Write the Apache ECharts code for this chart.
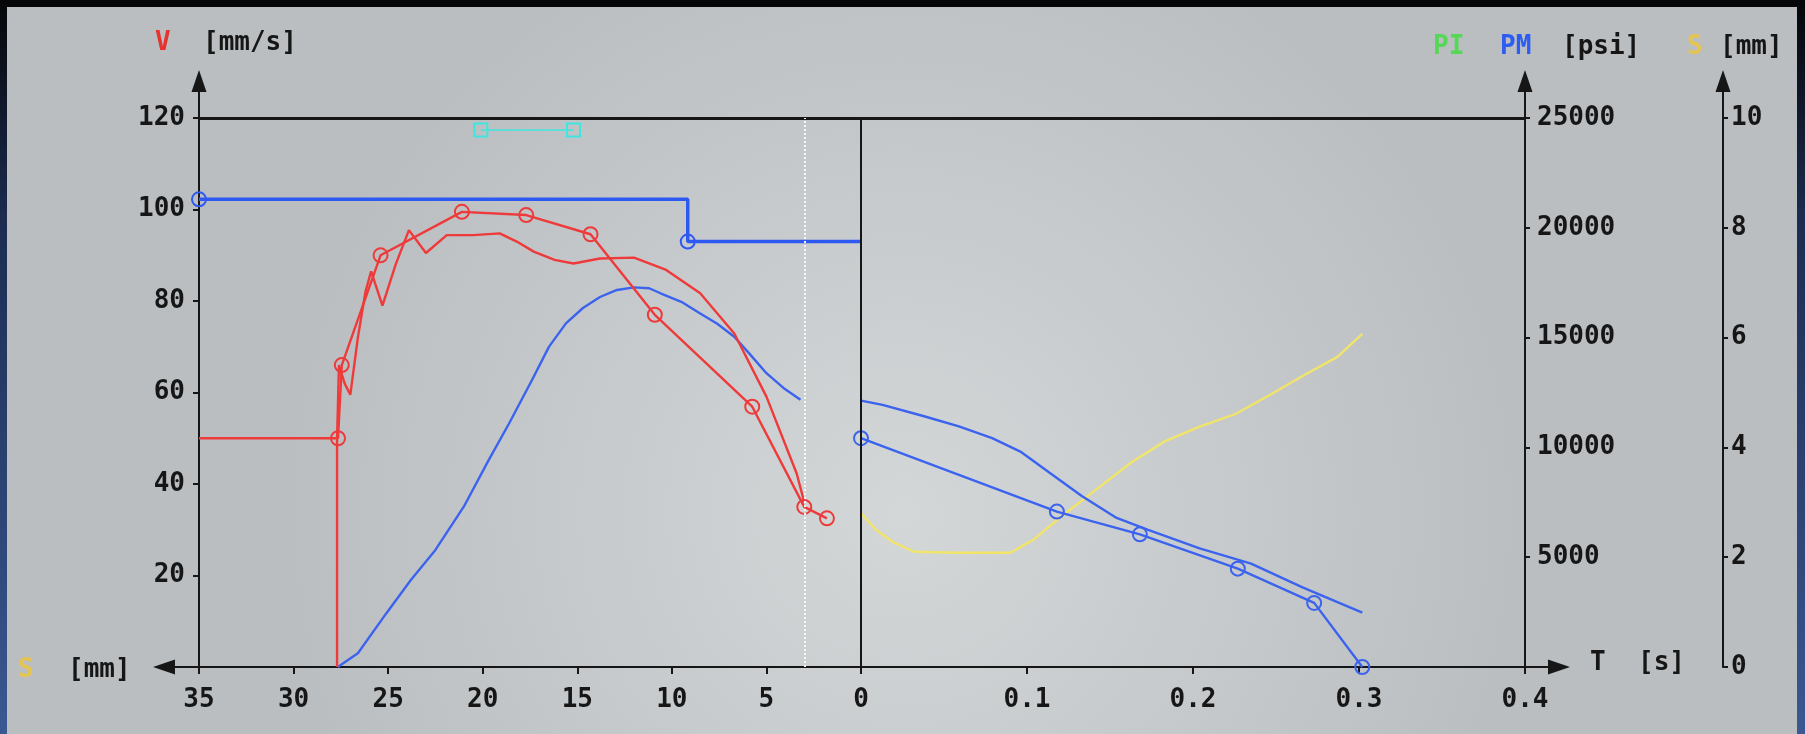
<!DOCTYPE html>
<html>
<head>
<meta charset="UTF-8">
<script src="https://cdn.jsdelivr.net/npm/echarts@6/dist/echarts.min.js"></script>
<style>
  html, body { margin: 0; padding: 0; background: #c6cacc; }
  #main { width: 1805px; height: 734px; }
</style>
</head>
<body>
<div id="main"></div>
<script>
// tick labels
var sTicks = [0, 5, 10, 15, 20, 25, 30, 35];      // stroke S [mm], left half (reversed)
var tTicks = [0.1, 0.2, 0.3, 0.4];                // time T [s], right half
var vTicks = [20, 40, 60, 80, 100, 120];          // V [mm/s]
var psiTicks = [5000, 10000, 15000, 20000, 25000];// PM [psi]
var mmTicks = [0, 2, 4, 6, 8, 10];                // S [mm], right axis

// reference lines
var sLimit = 35, vLimit = 120, tLimit = 0.4, psiLimit = 25000;
var sDivider = 3;

// velocity set profile (circles)
var vSetS = [35, 27.65, 27.45, 25.4, 21.1, 17.7, 14.3, 10.9, 5.75, 3.0, 1.8];
var vSetV = [50, 50, 66, 90, 99.5, 98.8, 94.6, 77, 56.9, 35, 32.5];

// velocity measured
var vActS = [27.7, 27.7, 27.6, 27.3, 27.0, 26.6, 26.2, 25.9, 25.3, 24.6, 23.9, 23.0, 21.9, 20.5, 19.1, 18.2, 17.3, 16.2, 15.2, 13.8, 12.0, 10.3, 8.5, 6.7, 5.0, 3.4, 3.0];
var vActV = [0, 50, 66, 62, 59.5, 72, 82, 86.5, 79, 88, 95.5, 90.5, 94.4, 94.4, 94.8, 93, 90.8, 89, 88.2, 89.3, 89.5, 86.8, 81.7, 72.9, 59.1, 42.3, 36];

// PM set step, left half
var pmSetS = [35, 9.16, 9.16, 0];
var pmSetPsi = [21300, 21300, 19375, 19375];

// PM measured, left half
var pmActS = [27.66, 26.6, 25.1, 23.8, 22.5, 21.0, 19.7, 18.6, 17.4, 16.5, 15.6, 14.7, 13.8, 12.9, 12.0, 11.2, 10.6, 9.5, 8.5, 7.6, 6.7, 5.9, 5.0, 4.1, 3.2];
var pmActPsi = [0, 625, 2440, 3960, 5330, 7300, 9400, 11100, 13060, 14580, 15650, 16350, 16850, 17170, 17290, 17250, 17020, 16630, 16100, 15630, 15040, 14270, 13380, 12710, 12170];

// PI window (cyan)
var piS = [20.1, 15.2];
var piV = [117.4, 117.4];

// PM set, right half (circles)
var pmSetT = [0, 0.118, 0.168, 0.227, 0.273, 0.302];
var pmSetTPsi = [10420, 7080, 6040, 4480, 2920, 0];

// PM measured, right half
var pmActT = [0, 0.013, 0.038, 0.059, 0.079, 0.096, 0.113, 0.133, 0.154, 0.173, 0.204, 0.235, 0.266, 0.302];
var pmActTPsi = [12130, 11940, 11420, 10960, 10420, 9810, 8880, 7790, 6790, 6250, 5400, 4710, 3630, 2480];

// stroke S over time (yellow)
var strokeT = [0, 0.009, 0.019, 0.032, 0.059, 0.090, 0.104, 0.121, 0.142, 0.163, 0.183, 0.204, 0.225, 0.246, 0.266, 0.287, 0.302];
var strokeMm = [2.8, 2.5, 2.28, 2.1, 2.08, 2.08, 2.32, 2.75, 3.24, 3.73, 4.11, 4.38, 4.6, 4.95, 5.3, 5.65, 6.07];

function zip(xs, ys) {
  return xs.map(function (x, i) { return [x, ys[i]]; });
}

var RED = '#ee3a3a', BLUE = '#3b63ee', STEP = '#2e58f2', CYAN = '#3fe6df', YEL = '#f1e46a';
var INK = '#161616';
var FONT = 'bold 26px "DejaVu Sans Mono"';
var lbl = { fontFamily: 'DejaVu Sans Mono', fontWeight: 'bold', fontSize: 26, color: INK };
var plain = function (v) { return String(v); };

// axis tops sit above the 120 / 25000 / 10 marks, same scale on all three
var vMax = 128.1;
var psiMax = vMax * psiLimit / vLimit;
var mmMax = vMax / 12;

var arrowSize = [15, 22];

var myChart = echarts.init(document.getElementById('main'));

// hollow markers: transparent fill, coloured rim
function hollow(color, shape, size) {
  return {
    symbol: shape, symbolSize: size, showAllSymbol: true,
    itemStyle: { color: 'rgba(0,0,0,0)', borderColor: color, borderWidth: 2 },
    lineStyle: { color: color, width: 2.4 }
  };
}

var vSetData = zip(vSetS, vSetV).map(function (p, i) {
  return i === 0 ? { value: p, symbol: 'none' } : p;
});
var pmSetData = zip(pmSetS, pmSetPsi).map(function (p, i) {
  return (i === 0 || i === 2) ? p : { value: p, symbol: 'none' };
});

var option = {
  animation: false,
  backgroundColor: {
    type: 'radial', x: 0.5, y: 0.7, r: 0.85,
    colorStops: [{ offset: 0, color: '#d4d7d8' }, { offset: 1, color: '#babec1' }]
  },
  graphic: [
    { type: 'rect', shape: { x: 0, y: 0, width: 1805, height: 7 }, style: { fill: '#050608' } },
    { type: 'rect', shape: { x: 0, y: 0, width: 7, height: 734 },
      style: { fill: { type: 'linear', x: 0, y: 0, x2: 0, y2: 1, colorStops: [{ offset: 0, color: '#050608' }, { offset: 0.3, color: '#1c2c50' }, { offset: 1, color: '#3a5892' }] } } },
    { type: 'rect', shape: { x: 1797, y: 0, width: 8, height: 734 },
      style: { fill: { type: 'linear', x: 0, y: 0, x2: 0, y2: 1, colorStops: [{ offset: 0, color: '#050608' }, { offset: 0.3, color: '#1c2c50' }, { offset: 1, color: '#3a5892' }] } } },
    { type: 'text', x: 155, y: 43, style: { text: 'V', fill: '#e8322e', font: FONT, verticalAlign: 'middle' } },
    { type: 'text', x: 203, y: 43, style: { text: '[mm/s]', fill: INK, font: FONT, verticalAlign: 'middle' } },
    { type: 'text', x: 1433, y: 47, style: { text: 'PI', fill: '#55d855', font: FONT, verticalAlign: 'middle' } },
    { type: 'text', x: 1500, y: 47, style: { text: 'PM', fill: '#2c5cf2', font: FONT, verticalAlign: 'middle' } },
    { type: 'text', x: 1562, y: 47, style: { text: '[psi]', fill: INK, font: FONT, verticalAlign: 'middle' } },
    { type: 'text', x: 1687, y: 47, style: { text: 'S', fill: '#e6c450', font: FONT, verticalAlign: 'middle' } },
    { type: 'text', x: 1720, y: 47, style: { text: '[mm]', fill: INK, font: FONT, verticalAlign: 'middle' } },
    { type: 'text', x: 18, y: 670, style: { text: 'S', fill: '#e6c450', font: FONT, verticalAlign: 'middle' } },
    { type: 'text', x: 68, y: 670, style: { text: '[mm]', fill: INK, font: FONT, verticalAlign: 'middle' } },
    { type: 'text', x: 1590, y: 663, style: { text: 'T', fill: INK, font: FONT, verticalAlign: 'middle' } },
    { type: 'text', x: 1638, y: 663, style: { text: '[s]', fill: INK, font: FONT, verticalAlign: 'middle' } }
  ],
  grid: [
    { left: 164, top: 81, width: 697, bottom: 67 },
    { left: 861, top: 81, width: 698, bottom: 67 }
  ],
  xAxis: [
    {
      gridIndex: 0, type: 'value', min: 0, max: 36.85, inverse: true,
      axisLine: { onZero: false, symbol: ['triangle', 'none'], symbolSize: arrowSize, lineStyle: { color: INK, width: 2 } },
      axisTick: { customValues: sTicks, length: 7, lineStyle: { color: INK, width: 2 } },
      axisLabel: Object.assign({ customValues: sTicks, margin: 20, formatter: plain }, lbl),
      splitLine: { show: false }
    },
    {
      gridIndex: 1, type: 'value', min: 0, max: 0.4205,
      axisLine: { onZero: false, symbol: ['none', 'triangle'], symbolSize: arrowSize, lineStyle: { color: INK, width: 2 } },
      axisTick: { customValues: tTicks, length: 7, lineStyle: { color: INK, width: 2 } },
      axisLabel: Object.assign({ customValues: tTicks, margin: 20, formatter: plain }, lbl),
      splitLine: { show: false }
    }
  ],
  yAxis: [
    {
      gridIndex: 0, type: 'value', position: 'left', offset: -35, min: 0, max: vMax,
      axisLine: { show: true, onZero: false, symbol: ['none', 'triangle'], symbolSize: arrowSize, lineStyle: { color: INK, width: 2 } },
      axisTick: { show: true, customValues: vTicks, length: 6, lineStyle: { color: INK, width: 2 } },
      axisLabel: Object.assign({ customValues: vTicks, margin: 14, formatter: plain }, lbl),
      splitLine: { show: false }
    },
    { gridIndex: 0, type: 'value', min: 0, max: psiMax, show: false, axisLine: { onZero: false } },
    {
      gridIndex: 1, type: 'value', position: 'right', offset: -34, min: 0, max: psiMax,
      axisLine: { show: true, onZero: false, symbol: ['none', 'triangle'], symbolSize: arrowSize, lineStyle: { color: INK, width: 2 } },
      axisTick: { show: true, customValues: psiTicks, length: 5, lineStyle: { color: INK, width: 2 } },
      axisLabel: Object.assign({ customValues: psiTicks, margin: 12, formatter: plain }, lbl),
      splitLine: { show: false }
    },
    {
      gridIndex: 1, type: 'value', position: 'right', offset: 164, min: 0, max: mmMax,
      axisLine: { show: true, onZero: false, symbol: ['none', 'triangle'], symbolSize: arrowSize, lineStyle: { color: INK, width: 2 } },
      axisTick: { show: true, customValues: mmTicks, length: 5, lineStyle: { color: INK, width: 2 } },
      axisLabel: Object.assign({ customValues: mmTicks, margin: 8, formatter: plain }, lbl),
      splitLine: { show: false }
    }
  ],
  series: [
    // left half: PM set step
    Object.assign({
      name: 'PM set', type: 'line', xAxisIndex: 0, yAxisIndex: 1, data: pmSetData, z: 3
    }, hollow(STEP, 'circle', 14), { lineStyle: { color: STEP, width: 3.5 } }),
    // left half: PM measured
    {
      name: 'PM', type: 'line', xAxisIndex: 0, yAxisIndex: 1, data: zip(pmActS, pmActPsi),
      showSymbol: false, lineStyle: { color: BLUE, width: 2.4 }, z: 3
    },
    // left half: V measured
    {
      name: 'V', type: 'line', xAxisIndex: 0, yAxisIndex: 0, data: zip(vActS, vActV),
      showSymbol: false, lineStyle: { color: RED, width: 2.4 }, z: 4
    },
    // left half: V set profile + frame lines
    Object.assign({
      name: 'V set', type: 'line', xAxisIndex: 0, yAxisIndex: 0, data: vSetData, z: 4,
      markLine: {
        silent: true, symbol: 'none', label: { show: false }, animation: false,
        data: [
          [{ coord: [sLimit, vLimit], lineStyle: { color: INK, width: 3, type: 'solid' } }, { coord: [0, vLimit] }],
          [{ coord: [0, 0], lineStyle: { color: INK, width: 2, type: 'solid' } }, { coord: [0, vLimit] }],
          [{ coord: [sDivider, 0], lineStyle: { color: '#f6f6f6', width: 2, type: 'dotted' } }, { coord: [sDivider, vLimit] }]
        ]
      }
    }, hollow(RED, 'circle', 14)),
    // PI window
    Object.assign({
      name: 'PI', type: 'line', xAxisIndex: 0, yAxisIndex: 0, data: zip(piS, piV), z: 4
    }, hollow(CYAN, 'rect', 13), { lineStyle: { color: CYAN, width: 1.5 } }),
    // right half: PM set with circles + top frame line
    Object.assign({
      name: 'PM set T', type: 'line', xAxisIndex: 1, yAxisIndex: 2, data: zip(pmSetT, pmSetTPsi), z: 3,
      markLine: {
        silent: true, symbol: 'none', label: { show: false }, animation: false,
        data: [
          [{ coord: [0, psiLimit], lineStyle: { color: INK, width: 3, type: 'solid' } }, { coord: [tLimit, psiLimit] }]
        ]
      }
    }, hollow(BLUE, 'circle', 14)),
    // right half: PM measured
    {
      name: 'PM T', type: 'line', xAxisIndex: 1, yAxisIndex: 2, data: zip(pmActT, pmActTPsi),
      showSymbol: false, lineStyle: { color: BLUE, width: 2.4 }, z: 3
    },
    // right half: stroke
    {
      name: 'S', type: 'line', xAxisIndex: 1, yAxisIndex: 3, data: zip(strokeT, strokeMm),
      showSymbol: false, lineStyle: { color: YEL, width: 2.4 }, z: 2
    }
  ]
};

myChart.setOption(option);
</script>
</body>
</html>
